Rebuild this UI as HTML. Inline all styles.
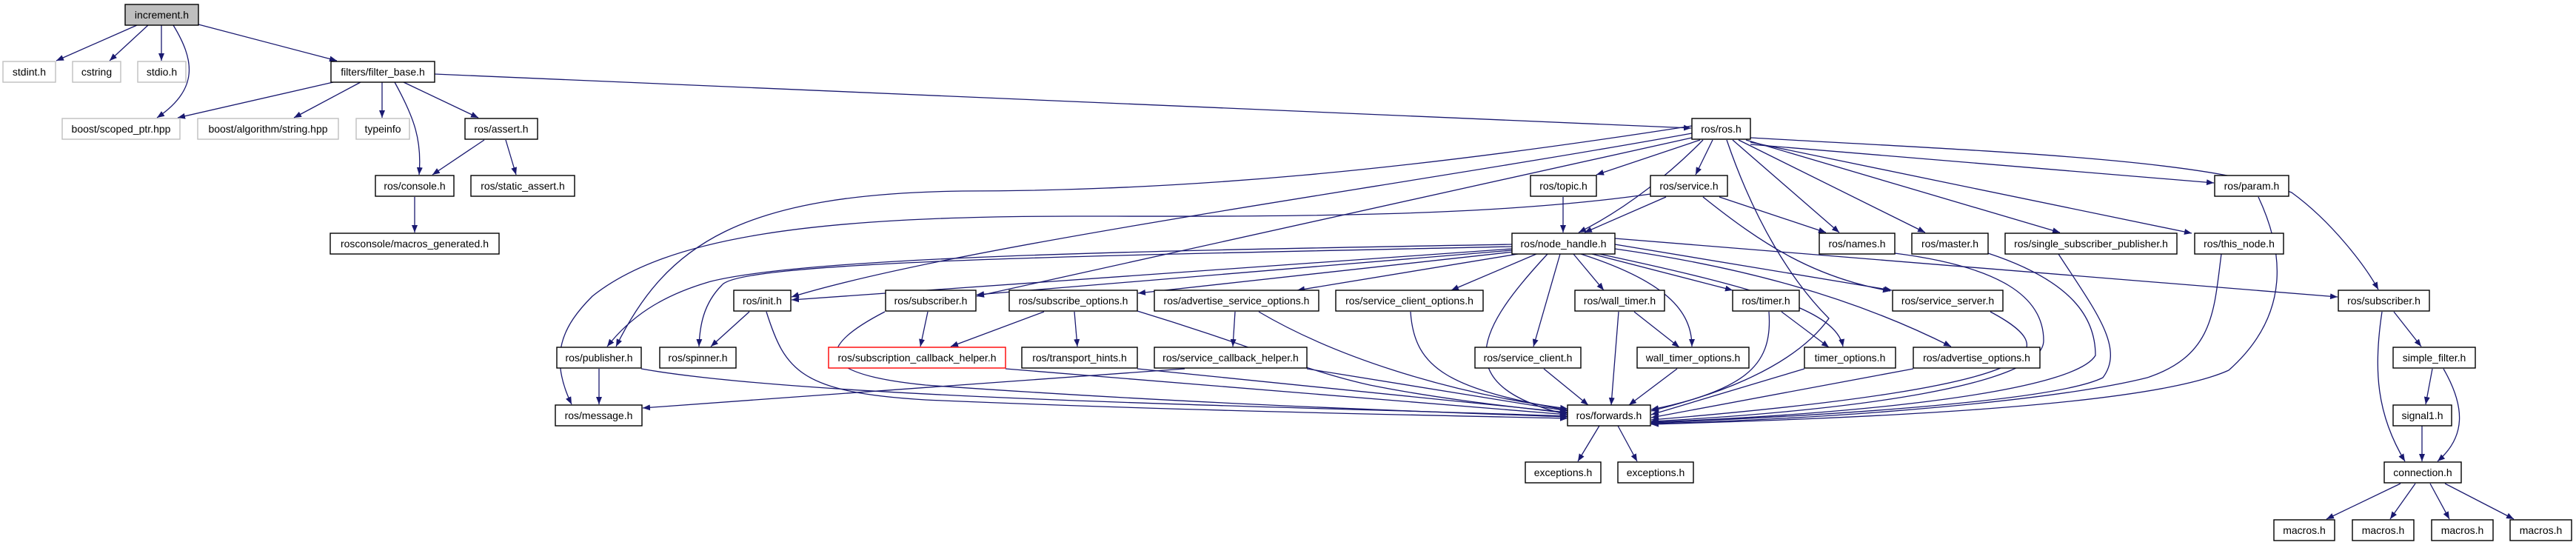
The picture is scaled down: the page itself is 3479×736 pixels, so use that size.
<!DOCTYPE html>
<html><head><meta charset="utf-8"><style>
html,body{margin:0;padding:0;background:#fff;}
svg{display:block;}
text{font-family:"Liberation Sans",sans-serif;font-size:14px;fill:#000;text-anchor:middle;}
.e{fill:none;stroke:#191970;stroke-width:1.3;marker-end:url(#a);}
.n{fill:#fff;stroke:#000;stroke-width:1.4;}
.g{fill:#fff;stroke:#bfbfbf;stroke-width:1.4;}
.r{fill:#fff;stroke:#ff0000;stroke-width:1.4;}
</style></head><body>
<svg width="3479" height="736" viewBox="0 0 3479 736" xmlns="http://www.w3.org/2000/svg">
<defs><marker id="a" markerUnits="userSpaceOnUse" markerWidth="11" markerHeight="8" refX="10" refY="4" orient="auto"><path d="M0,0 L10,4 L0,8 z" fill="#191970"/></marker></defs>
<g>
<path class="e" d="M185,34 L76,82"/>
<path class="e" d="M200,34 L148,82"/>
<path class="e" d="M218,34 L218,82"/>
<path class="e" d="M234,34 C262,80 270,120 212,159"/>
<path class="e" d="M268,33 L455,82"/>
<path class="e" d="M450,111 L240,159"/>
<path class="e" d="M487,111 L397,159"/>
<path class="e" d="M516,111 L516,159"/>
<path class="e" d="M533,111 C560,160 570,190 566,236"/>
<path class="e" d="M545,111 L646,159"/>
<path class="e" d="M587,100 L2284,173"/>
<path class="e" d="M654,189 L584,236"/>
<path class="e" d="M683,189 L697,236"/>
<path class="e" d="M560,266 L560,314"/>

<path class="e" d="M2296,189 L2156,236"/>
<path class="e" d="M2313,189 L2290,236"/>
<path class="e" d="M2300,189 C2260,230 2200,280 2132,314"/>
<path class="e" d="M2340,189 L2484,314"/>
<path class="e" d="M2348,189 L2600,314"/>
<path class="e" d="M2358,189 L2782,314"/>
<path class="e" d="M2364,192 L2960,315"/>
<path class="e" d="M2364,195 L2990,247"/>
<path class="e" d="M2364,186 C2700,205 2980,215 3095,260 C3150,300 3195,360 3212,391"/>
<path class="e" d="M2285,170 C1900,230 1600,258 1300,258 C1000,262 900,330 832,468"/>
<path class="e" d="M2285,180 C1900,250 1300,330 1069,401"/>
<path class="e" d="M2285,186 L1319,400"/>
<path class="e" d="M2332,189 C2370,300 2420,380 2470,430 C2420,500 2300,540 2230,553"/>

<path class="e" d="M2250,266 L2140,314"/>
<path class="e" d="M2322,266 L2466,314"/>
<path class="e" d="M2229,262 C2000,295 1700,292 1450,292 C1100,292 900,320 800,400 C760,440 740,480 772,546"/>
<path class="e" d="M2300,266 C2380,330 2450,375 2553,393"/>
<path class="e" d="M2111,266 L2111,314"/>

<path class="e" d="M2042,330 C1600,338 1100,345 960,380 C890,400 850,430 820,468"/>
<path class="e" d="M2042,333 C1500,345 1000,352 975,385 C950,410 945,440 944,468"/>
<path class="e" d="M2042,336 L1069,405"/>
<path class="e" d="M2042,338 L1319,398"/>
<path class="e" d="M2045,340 L1537,396"/>
<path class="e" d="M2050,343 L1752,392"/>
<path class="e" d="M2075,343 L1960,392"/>
<path class="e" d="M2107,343 L2071,468"/>
<path class="e" d="M2090,343 C2000,440 1950,520 2117,560"/>
<path class="e" d="M2125,343 L2166,392"/>
<path class="e" d="M2135,343 C2250,380 2285,420 2285,468"/>
<path class="e" d="M2150,343 L2340,392"/>
<path class="e" d="M2160,343 C2380,390 2480,420 2489,468"/>
<path class="e" d="M2181,330 L2555,392"/>
<path class="e" d="M2181,336 C2350,360 2500,400 2635,468"/>
<path class="e" d="M2181,322 L3157,401"/>

<path class="e" d="M1035,421 C1060,500 1080,530 1250,540 C1600,555 1900,560 2117,565"/>
<path class="e" d="M1195,421 C1100,470 1100,505 1250,520 C1600,545 1900,555 2117,563"/>
<path class="e" d="M1536,420 C1700,470 1760,500 1850,520 C1950,540 2050,550 2117,558"/>
<path class="e" d="M1700,421 C1800,480 1950,530 2117,552"/>
<path class="e" d="M1905,421 C1910,500 1960,525 2117,554"/>
<path class="e" d="M866,498 C1100,540 1800,550 2117,562"/>
<path class="e" d="M1358,498 L2117,560"/>
<path class="e" d="M1536,498 L2117,557"/>
<path class="e" d="M1765,498 L2117,555"/>
<path class="e" d="M1600,498 L868,551"/>
<path class="e" d="M2085,498 L2145,547"/>
<path class="e" d="M2186,421 L2176,547"/>
<path class="e" d="M2207,421 L2268,469"/>
<path class="e" d="M2265,498 L2200,547"/>
<path class="e" d="M2389,421 C2395,500 2350,525 2230,555"/>
<path class="e" d="M2406,421 L2470,469"/>
<path class="e" d="M2437,498 L2230,560"/>
<path class="e" d="M2584,498 L2230,564"/>
<path class="e" d="M2688,421 C2780,470 2800,520 2230,567"/>
<path class="e" d="M2559,342 C2700,360 2760,400 2760,460 C2760,520 2500,555 2230,569"/>
<path class="e" d="M2685,342 C2800,380 2830,430 2830,480 C2800,530 2500,560 2230,570"/>
<path class="e" d="M2780,343 C2830,420 2870,470 2840,510 C2780,540 2500,560 2230,571"/>
<path class="e" d="M3000,343 C2990,420 2990,480 2900,510 C2780,540 2500,565 2230,572"/>
<path class="e" d="M3050,266 C3080,330 3100,420 3010,500 C2900,550 2500,565 2230,573"/>

<path class="e" d="M2160,575 L2131,623"/>
<path class="e" d="M2185,575 L2211,623"/>
<path class="e" d="M3233,421 L3270,468"/>
<path class="e" d="M3217,421 C3205,500 3210,560 3248,623"/>
<path class="e" d="M3285,498 L3276,546"/>
<path class="e" d="M3300,498 C3330,550 3330,590 3292,623"/>
<path class="e" d="M3271,575 L3271,623"/>
<path class="e" d="M3242,653 L3142,701"/>
<path class="e" d="M3262,653 L3228,701"/>
<path class="e" d="M3282,653 L3308,701"/>
<path class="e" d="M3302,653 L3395,701"/>
<path class="e" d="M1410,421 L1284,468"/>
<path class="e" d="M1451,421 L1455,468"/>
<path class="e" d="M1253,421 L1243,468"/>
<path class="e" d="M1668,421 L1665,468"/>
<path class="e" d="M1012,421 L960,468"/>
<path class="e" d="M809,498 L809,546"/>
</g>
<g>
<rect x="169" y="6" width="99" height="28" fill="#bfbfbf" stroke="#000" stroke-width="1.4"/><text x="218.5" y="25">increment.h</text>
<rect class="g" x="4" y="83" width="71" height="28"/><text x="39.5" y="102">stdint.h</text>
<rect class="g" x="98" y="83" width="65" height="28"/><text x="130.5" y="102">cstring</text>
<rect class="g" x="186" y="83" width="65" height="28"/><text x="218.5" y="102">stdio.h</text>
<rect class="n" x="447" y="83" width="140" height="28"/><text x="517" y="102">filters/filter_base.h</text>
<rect class="g" x="84" y="160" width="159" height="28"/><text x="163.5" y="179">boost/scoped_ptr.hpp</text>
<rect class="g" x="267" y="160" width="190" height="28"/><text x="362" y="179">boost/algorithm/string.hpp</text>
<rect class="g" x="481" y="160" width="72" height="28"/><text x="517" y="179">typeinfo</text>
<rect class="n" x="628" y="160" width="98" height="28"/><text x="677" y="179">ros/assert.h</text>
<rect class="n" x="507" y="237" width="106" height="28"/><text x="560" y="256">ros/console.h</text>
<rect class="n" x="636" y="237" width="140" height="28"/><text x="706" y="256">ros/static_assert.h</text>
<rect class="n" x="446" y="315" width="228" height="28"/><text x="560" y="334">rosconsole/macros_generated.h</text>
<rect class="n" x="2285" y="160" width="79" height="28"/><text x="2324.5" y="179">ros/ros.h</text>
<rect class="n" x="2067" y="237" width="89" height="28"/><text x="2111.5" y="256">ros/topic.h</text>
<rect class="n" x="2229" y="237" width="104" height="28"/><text x="2281" y="256">ros/service.h</text>
<rect class="n" x="2991" y="237" width="100" height="28"/><text x="3041" y="256">ros/param.h</text>
<rect class="n" x="2042" y="315" width="139" height="28"/><text x="2111.5" y="334">ros/node_handle.h</text>
<rect class="n" x="2457" y="315" width="102" height="28"/><text x="2508" y="334">ros/names.h</text>
<rect class="n" x="2582" y="315" width="103" height="28"/><text x="2633.5" y="334">ros/master.h</text>
<rect class="n" x="2708" y="315" width="232" height="28"/><text x="2824" y="334">ros/single_subscriber_publisher.h</text>
<rect class="n" x="2964" y="315" width="120" height="28"/><text x="3024" y="334">ros/this_node.h</text>
<rect class="n" x="991" y="392" width="77" height="28"/><text x="1029.5" y="411">ros/init.h</text>
<rect class="n" x="1196" y="392" width="122" height="28"/><text x="1257" y="411">ros/subscriber.h</text>
<rect class="n" x="1363" y="392" width="173" height="28"/><text x="1449.5" y="411">ros/subscribe_options.h</text>
<rect class="n" x="1559" y="392" width="222" height="28"/><text x="1670" y="411">ros/advertise_service_options.h</text>
<rect class="n" x="1804" y="392" width="199" height="28"/><text x="1903.5" y="411">ros/service_client_options.h</text>
<rect class="n" x="2127" y="392" width="121" height="28"/><text x="2187.5" y="411">ros/wall_timer.h</text>
<rect class="n" x="2340" y="392" width="90" height="28"/><text x="2385" y="411">ros/timer.h</text>
<rect class="n" x="2556" y="392" width="149" height="28"/><text x="2630.5" y="411">ros/service_server.h</text>
<rect class="n" x="3158" y="392" width="123" height="28"/><text x="3219.5" y="411">ros/subscriber.h</text>
<rect class="n" x="752" y="469" width="114" height="28"/><text x="809" y="488">ros/publisher.h</text>
<rect class="n" x="891" y="469" width="103" height="28"/><text x="942.5" y="488">ros/spinner.h</text>
<rect class="r" x="1119" y="469" width="239" height="28"/><text x="1238.5" y="488">ros/subscription_callback_helper.h</text>
<rect class="n" x="1380" y="469" width="156" height="28"/><text x="1458" y="488">ros/transport_hints.h</text>
<rect class="n" x="1559" y="469" width="206" height="28"/><text x="1662" y="488">ros/service_callback_helper.h</text>
<rect class="n" x="1992" y="469" width="143" height="28"/><text x="2063.5" y="488">ros/service_client.h</text>
<rect class="n" x="2211" y="469" width="151" height="28"/><text x="2286.5" y="488">wall_timer_options.h</text>
<rect class="n" x="2437" y="469" width="123" height="28"/><text x="2498.5" y="488">timer_options.h</text>
<rect class="n" x="2584" y="469" width="171" height="28"/><text x="2669.5" y="488">ros/advertise_options.h</text>
<rect class="n" x="3232" y="469" width="111" height="28"/><text x="3287.5" y="488">simple_filter.h</text>
<rect class="n" x="750" y="547" width="117" height="28"/><text x="808.5" y="566">ros/message.h</text>
<rect class="n" x="2117" y="547" width="112" height="28"/><text x="2173" y="566">ros/forwards.h</text>
<rect class="n" x="3232" y="547" width="79" height="28"/><text x="3271.5" y="566">signal1.h</text>
<rect class="n" x="2060" y="624" width="102" height="28"/><text x="2111" y="643">exceptions.h</text>
<rect class="n" x="2185" y="624" width="102" height="28"/><text x="2236" y="643">exceptions.h</text>
<rect class="n" x="3220" y="624" width="104" height="28"/><text x="3272" y="643">connection.h</text>
<rect class="n" x="3071" y="702" width="82" height="28"/><text x="3112" y="721">macros.h</text>
<rect class="n" x="3177" y="702" width="83" height="28"/><text x="3218.5" y="721">macros.h</text>
<rect class="n" x="3284" y="702" width="83" height="28"/><text x="3325.5" y="721">macros.h</text>
<rect class="n" x="3390" y="702" width="83" height="28"/><text x="3431.5" y="721">macros.h</text>
</g>
</svg>
</body></html>
